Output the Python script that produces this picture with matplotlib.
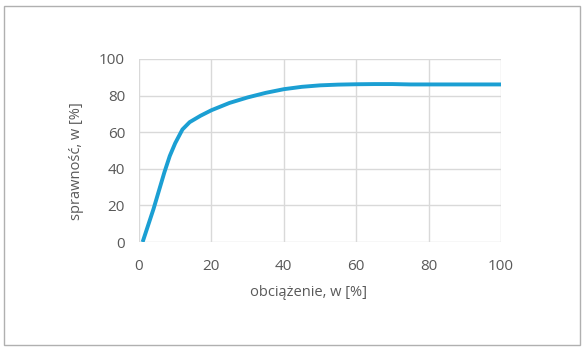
import matplotlib
matplotlib.use("Agg")
import matplotlib.pyplot as plt
from matplotlib.patches import Rectangle

load = [1, 2.5, 4, 5.5, 7, 8.5, 10, 12, 14, 17, 20, 25, 30, 35, 40, 45, 50, 55, 60, 65, 70, 75, 80, 90, 100]
eff = [0, 9, 18, 28, 38, 47, 54, 61.5, 65.5, 69, 72, 76, 79, 81.5, 83.5, 84.8, 85.6, 86, 86.2, 86.3, 86.3, 86.1, 86.1, 86.1, 86.1]
xticks = [0, 20, 40, 60, 80, 100]
yticks = [0, 20, 40, 60, 80, 100]

plt.rcParams['font.family'] = ['Open Sans', 'DejaVu Sans']
fig = plt.figure(figsize=(5.83, 3.5), dpi=100)
fig.patches.append(Rectangle((4/583, 1 - 345/350), 576/583, 339/350, transform=fig.transFigure,
                             fill=False, edgecolor='#b0b0b0', linewidth=1.0))
ax = fig.add_axes([139/583, 1 - 242/350, 362/583, 183/350])
ax.plot(load, eff, color='#1b9fd3', linewidth=2.8, solid_capstyle='butt')
ax.set_xlim(0, 100)
ax.set_ylim(0, 100)
ax.set_xticks(xticks)
ax.set_yticks(yticks)
ax.grid(True, color='#d9d9d9', linewidth=1.0)
ax.set_axisbelow(True)
for s in ax.spines.values():
    s.set_visible(False)
ax.tick_params(axis='x', length=0, labelsize=11, colors='#595959', pad=12)
ax.tick_params(axis='y', length=0, labelsize=11, colors='#595959', pad=10)
ax.set_xlabel('obciążenie, w [%]', fontsize=10.5, color='#595959', labelpad=9)
ax.set_ylabel('sprawność, w [%]', fontsize=10.5, color='#595959', labelpad=9)
ax.xaxis.set_label_coords((308 - 139) / 362, -(292 - 242) / 183, transform=ax.transAxes)
ax.xaxis.label.set_va('center')
ax.yaxis.set_label_coords(-(139 - 76) / 362, (242 - 161) / 183, transform=ax.transAxes)
ax.yaxis.label.set_va('center')
fig.savefig('out.png', dpi=100)
